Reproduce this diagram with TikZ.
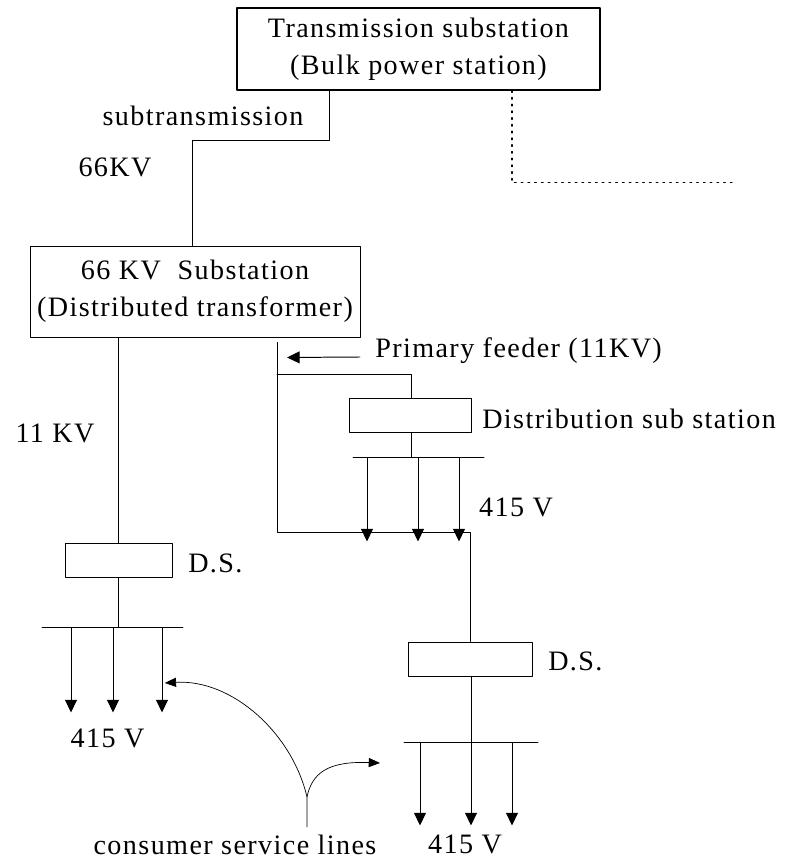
\documentclass[tikz,border=0pt]{standalone}
\usepackage{fontspec}
\setmainfont{Liberation Serif}[LetterSpace=5]
\usetikzlibrary{arrows.meta}

\begin{document}
\begin{tikzpicture}[line cap=round,line join=round,
  every node/.style={font=\fontsize{20}{26}\selectfont,inner sep=0pt},
  station/.style={draw,line width=0.7pt,align=center},
  dsbox/.style={draw,line width=0.7pt,minimum height=0.85cm},
  feed/.style={line width=0.7pt},
  drop/.style={line width=0.7pt,-{Triangle[length=9pt,width=8.5pt]}},
  callout/.style={line width=0.5pt,-{Triangle[length=8pt,width=6.5pt]}}]
  \useasboundingbox (0,0) rectangle (19.725,21.525);
  % stations
  \node[station,line width=1pt,minimum width=9.075cm,minimum height=2.05cm] (bulk) at (10.4625,20.3)
    {Transmission substation\\(Bulk power station)};
  \node[station,minimum width=8.25cm,minimum height=2.275cm] (sub66) at (4.875,14.2375)
    {66 KV~ Substation\\(Distributed transformer)};
  \node[dsbox,minimum width=3.05cm] (ds3) at (10.25,11.1375) {};
  \node[dsbox,minimum width=2.675cm] (ds1) at (2.9625,7.5125) {};
  \node[dsbox,minimum width=3.1cm] (ds2) at (11.75,5.05) {};
  % 66 KV subtransmission
  \draw[feed] ([xshift=-2.2375cm]bulk.south) -- ++(0,-1.25) -| ([xshift=-0.075cm]sub66.north);
  \draw[line width=0.9pt,dash pattern=on 1.2pt off 3.6pt] ([xshift=2.3375cm]bulk.south) |- ++(5.575,-2.3);
  \node at (5.075,18.63) {subtransmission};
  \node at (2.875,17.35) {66KV};
  % 11 KV feeders
  \draw[feed] (sub66.south -| ds1.north) -- (ds1.north);
  \node at (1.375,10.7) {11 KV};
  \coordinate (fdr) at ([xshift=2.05cm,yshift=-0.125cm]sub66.south);
  \draw[feed] (fdr) |- ([yshift=2.725cm]ds2.north) -- (ds2.north);
  \path (fdr) ++(0,-0.8) coordinate (tee);
  \draw[feed] (tee) -| ([xshift=0.025cm]ds3.north);
  \node[anchor=west] (feeder) at (9.375,12.75) {Primary feeder (11KV)};
  \draw[feed,-{Triangle[length=9pt,width=8.5pt]}] ([xshift=-0.375cm,yshift=-0.15cm]feeder.west) -- ([xshift=0.25cm,yshift=-0.375cm]fdr);
  % distribution sub station
  \node[anchor=west] at (12.05,11.05) {Distribution sub station};
  \draw[feed] ([xshift=0.025cm]ds3.south) -- ++(0,-0.6125) coordinate (bus3);
  \draw[feed] ([xshift=-1.45cm]bus3) -- ([xshift=1.825cm]bus3);
  \foreach \dx in {-1.1,0.175,1.2}
    \draw[drop] ([xshift=\dx cm]bus3) -- ++(0,-2.1);
  \node at (12.9,8.85) {415 V};
  % left D.S.
  \node[anchor=west] at (4.7,7.45) {D.S.};
  \draw[feed] (ds1.south) -- ++(0,-1.2375) coordinate (bus1);
  \draw[feed] ([xshift=-1.9125cm]bus1) -- ([xshift=1.6125cm]bus1);
  \foreach \dx in {-1.1875,-0.1375,1.0875}
    \draw[drop] ([xshift=\dx cm]bus1) -- ++(0,-2.125);
  \node at (2.69,3.075) {415 V};
  % right D.S.
  \node[anchor=west] at (13.7,5.0) {D.S.};
  \draw[feed] ([xshift=0.025cm]ds2.south) -- ++(0,-1.65) coordinate (bus2);
  \draw[feed] ([xshift=-1.675cm]bus2) -- ([xshift=1.675cm]bus2);
  \foreach \dx in {-1.275,0,1.025}
    \draw[drop] ([xshift=\dx cm]bus2) -- ++(0,-2.075);
  \node at (11.625,0.42) {415 V};
  % consumer service lines
  \node (csl) at (5.875,0.4) {consumer service lines};
  \coordinate (stem) at (7.675,0.85);
  \coordinate (fork) at (7.675,1.6);
  \draw[callout] (stem) -- (fork) .. controls (7.3,3.2) and (5.8,4.55) .. (4.12,4.45);
  \draw[callout] (fork) .. controls (7.8,2.2) and (8.2,2.5) .. (9.5,2.45);
\end{tikzpicture}
\end{document}
